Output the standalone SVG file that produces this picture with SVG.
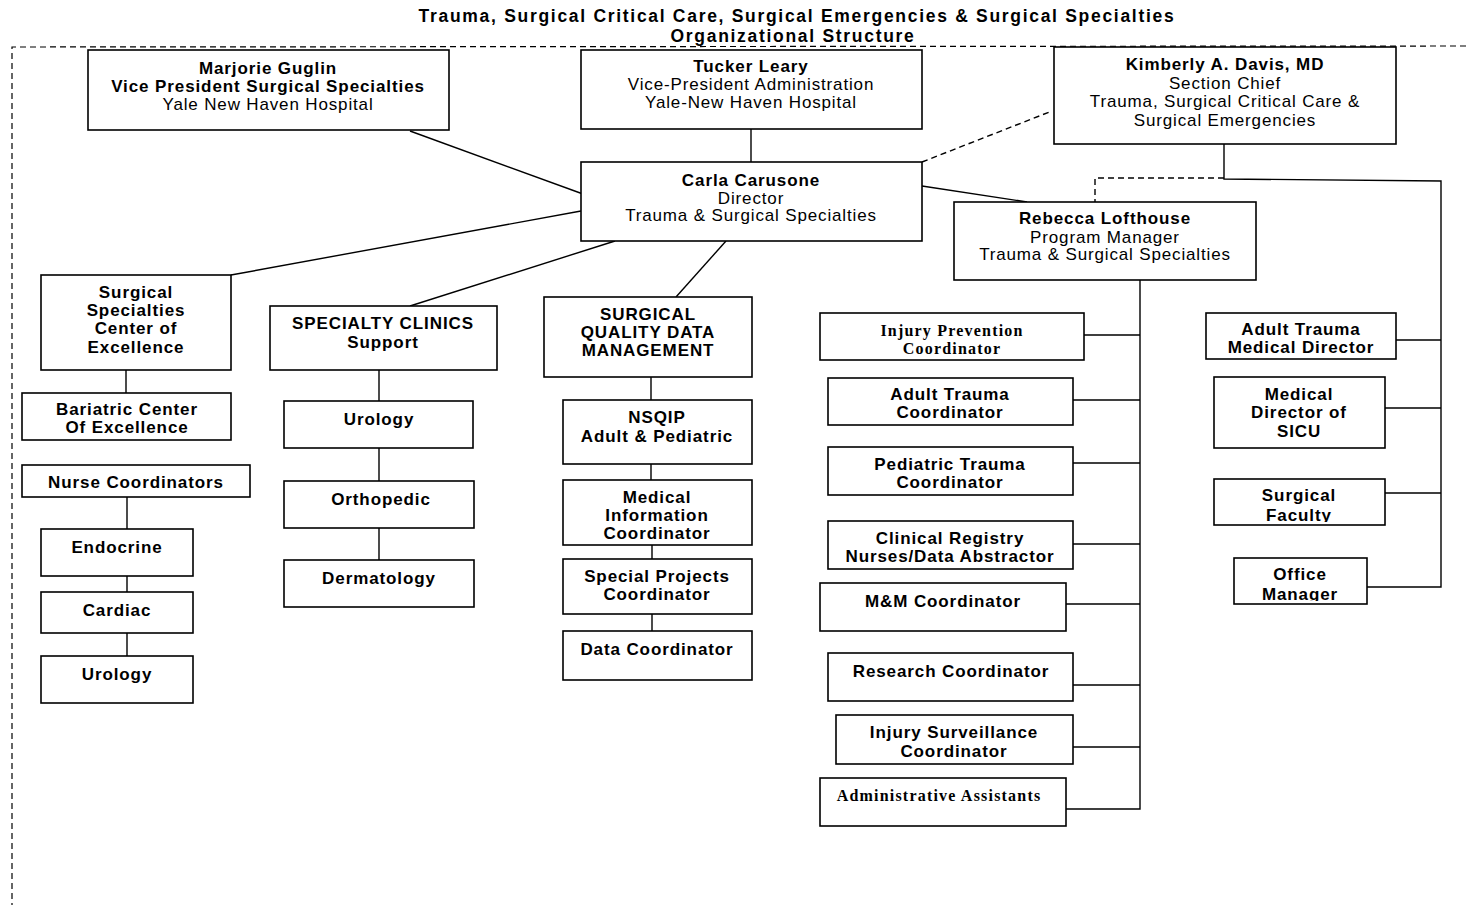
<svg xmlns="http://www.w3.org/2000/svg" width="1466" height="905" viewBox="0 0 1466 905">
<style>
.box{fill:#fff;stroke:#000;stroke-width:1.6}
.ln{fill:none;stroke:#000;stroke-width:1.4}
.dl{fill:none;stroke:#000;stroke-width:1.4;stroke-dasharray:6 4}
.frame{fill:none;stroke:#000;stroke-width:1.2;stroke-dasharray:6 4}
text{font-family:"Liberation Sans",Arial,sans-serif;font-size:17px;text-anchor:middle;fill:#000}
.t{font-weight:bold;font-size:17.5px;letter-spacing:1.7px}
.b{font-weight:bold;letter-spacing:0.9px}
.r{letter-spacing:0.85px}
.s{font-family:"Liberation Serif","Times New Roman",serif;font-weight:bold;font-size:16px;letter-spacing:1.2px}
</style>
<defs>
<clipPath id="cf"><rect x="1214" y="479" width="171" height="43"/></clipPath>
<clipPath id="co"><rect x="1234" y="558" width="133" height="43"/></clipPath>
</defs>
<rect width="1466" height="905" fill="#fff"/>
<g id="title">
<text class="t" x="797" y="22">Trauma, Surgical Critical Care, Surgical Emergencies &amp; Surgical Specialties</text>
<text class="t" x="793" y="42">Organizational Structure</text>
</g>
<g id="frame">
<path class="frame" d="M1466 46 L12 47 L12 905"/>
</g>
<g id="connectors">
<path class="ln" d="M410 131 L583 194"/>
<path class="ln" d="M751 129 L751 162"/>
<path class="dl" d="M922 162 L1052 111"/>
<path class="ln" d="M922 186 L1027 202"/>
<path class="ln" d="M581 211 L231 275"/>
<path class="ln" d="M615 241 L410 306"/>
<path class="ln" d="M726 241 L676 297"/>
<path class="ln" d="M1224 144 L1224 179 L1441 181 L1441 587 L1367 587"/>
<path class="dl" d="M1224 178 L1095 178 L1095 202"/>
<path class="ln" d="M1396 340 L1441 340 M1385 408 L1441 408 M1385 493 L1441 493"/>
<path class="ln" d="M1140 280 L1140 809 L1066 809"/>
<path class="ln" d="M1084 335 L1140 335 M1073 400 L1140 400 M1073 463 L1140 463 M1073 544 L1140 544 M1066 604 L1140 604 M1073 685 L1140 685 M1073 747 L1140 747"/>
<path class="ln" d="M126 370 L126 393 M127 497 L127 529 M127 576 L127 592 M127 633 L127 656"/>
<path class="ln" d="M379 370 L379 401 M379 448 L379 481 M379 528 L379 560"/>
<path class="ln" d="M651 377 L651 400 M651 464 L651 480 M652 545 L652 559 M652 614 L652 631"/>
</g>
<g id="marjorie"><rect class="box" x="88" y="50" width="361" height="80"/>
<text class="b" x="268" y="74">Marjorie Guglin</text><text class="b" x="268" y="92">Vice President Surgical Specialties</text><text class="r" x="268" y="110">Yale New Haven Hospital</text></g>
<g id="tucker"><rect class="box" x="581" y="50" width="341" height="79"/>
<text class="b" x="751" y="72">Tucker Leary</text><text class="r" x="751" y="90">Vice-President Administration</text><text class="r" x="751" y="108">Yale-New Haven Hospital</text></g>
<g id="kimberly"><rect class="box" x="1054" y="47" width="342" height="97"/>
<text class="b" x="1225" y="70">Kimberly A. Davis, MD</text><text class="r" x="1225" y="89">Section Chief</text><text class="r" x="1225" y="107">Trauma, Surgical Critical Care &amp;</text><text class="r" x="1225" y="126">Surgical Emergencies</text></g>
<g id="carla"><rect class="box" x="581" y="162" width="341" height="79"/>
<text class="b" x="751" y="186">Carla Carusone</text><text class="r" x="751" y="204">Director</text><text class="r" x="751" y="221">Trauma &amp; Surgical Specialties</text></g>
<g id="rebecca"><rect class="box" x="954" y="202" width="302" height="78"/>
<text class="b" x="1105" y="224">Rebecca Lofthouse</text><text class="r" x="1105" y="243">Program Manager</text><text class="r" x="1105" y="260">Trauma &amp; Surgical Specialties</text></g>
<g id="sscoe"><rect class="box" x="41" y="275" width="190" height="95"/>
<text class="b" x="136" y="298">Surgical</text><text class="b" x="136" y="316">Specialties</text><text class="b" x="136" y="334">Center of</text><text class="b" x="136" y="353">Excellence</text></g>
<g id="clinics"><rect class="box" x="270" y="306" width="227" height="64"/>
<text class="b" x="383" y="329">SPECIALTY CLINICS</text><text class="b" x="383" y="348">Support</text></g>
<g id="sqdm"><rect class="box" x="544" y="297" width="208" height="80"/>
<text class="b" x="648" y="320">SURGICAL</text><text class="b" x="648" y="338">QUALITY DATA</text><text class="b" x="648" y="356">MANAGEMENT</text></g>
<g id="bariatric"><rect class="box" x="22" y="393" width="209" height="47"/>
<text class="b" x="127" y="415">Bariatric Center</text><text class="b" x="127" y="433">Of Excellence</text></g>
<g id="nurse"><rect class="box" x="22" y="465" width="228" height="32"/>
<text class="b" x="136" y="488">Nurse Coordinators</text></g>
<g id="endocrine"><rect class="box" x="41" y="529" width="152" height="47"/><text class="b" x="117" y="553">Endocrine</text></g>
<g id="cardiac"><rect class="box" x="41" y="592" width="152" height="41"/><text class="b" x="117" y="616">Cardiac</text></g>
<g id="urology1"><rect class="box" x="41" y="656" width="152" height="47"/><text class="b" x="117" y="680">Urology</text></g>
<g id="urology2"><rect class="box" x="284" y="401" width="189" height="47"/><text class="b" x="379" y="425">Urology</text></g>
<g id="orthopedic"><rect class="box" x="284" y="481" width="190" height="47"/><text class="b" x="381" y="505">Orthopedic</text></g>
<g id="dermatology"><rect class="box" x="284" y="560" width="190" height="47"/><text class="b" x="379" y="584">Dermatology</text></g>
<g id="nsqip"><rect class="box" x="563" y="400" width="189" height="64"/>
<text class="b" x="657" y="423">NSQIP</text><text class="b" x="657" y="442">Adult &amp; Pediatric</text></g>
<g id="medinfo"><rect class="box" x="563" y="480" width="189" height="65"/>
<text class="b" x="657" y="503">Medical</text><text class="b" x="657" y="521">Information</text><text class="b" x="657" y="539">Coordinator</text></g>
<g id="specialprojects"><rect class="box" x="563" y="559" width="189" height="55"/>
<text class="b" x="657" y="582">Special Projects</text><text class="b" x="657" y="600">Coordinator</text></g>
<g id="datacoord"><rect class="box" x="563" y="631" width="189" height="49"/><text class="b" x="657" y="655">Data Coordinator</text></g>
<g id="injuryprev"><rect class="box" x="820" y="313" width="264" height="47"/>
<text class="s" x="952" y="336">Injury Prevention</text><text class="s" x="952" y="354">Coordinator</text></g>
<g id="adulttraumacoord"><rect class="box" x="828" y="378" width="245" height="47"/>
<text class="b" x="950" y="400">Adult Trauma</text><text class="b" x="950" y="418">Coordinator</text></g>
<g id="pediatric"><rect class="box" x="828" y="447" width="245" height="48"/>
<text class="b" x="950" y="470">Pediatric Trauma</text><text class="b" x="950" y="488">Coordinator</text></g>
<g id="clinicalregistry"><rect class="box" x="828" y="521" width="245" height="48"/>
<text class="b" x="950" y="544">Clinical Registry</text><text class="b" x="950" y="562">Nurses/Data Abstractor</text></g>
<g id="mm"><rect class="box" x="820" y="583" width="246" height="48"/><text class="b" x="943" y="607">M&amp;M Coordinator</text></g>
<g id="research"><rect class="box" x="828" y="653" width="245" height="48"/><text class="b" x="951" y="677">Research Coordinator</text></g>
<g id="injurysurv"><rect class="box" x="836" y="715" width="237" height="49"/>
<text class="b" x="954" y="738">Injury Surveillance</text><text class="b" x="954" y="757">Coordinator</text></g>
<g id="admin"><rect class="box" x="820" y="778" width="246" height="48"/><text class="s" x="939" y="801">Administrative Assistants</text></g>
<g id="adulttraumamd"><rect class="box" x="1206" y="313" width="190" height="46"/>
<text class="b" x="1301" y="335">Adult Trauma</text><text class="b" x="1301" y="353">Medical Director</text></g>
<g id="sicu"><rect class="box" x="1214" y="377" width="171" height="71"/>
<text class="b" x="1299" y="400">Medical</text><text class="b" x="1299" y="418">Director of</text><text class="b" x="1299" y="437">SICU</text></g>
<g id="faculty"><rect class="box" x="1214" y="479" width="171" height="46"/>
<g clip-path="url(#cf)"><text class="b" x="1299" y="501">Surgical</text><text class="b" x="1299" y="521">Faculty</text></g></g>
<g id="officemanager"><rect class="box" x="1234" y="558" width="133" height="46"/>
<g clip-path="url(#co)"><text class="b" x="1300" y="580">Office</text><text class="b" x="1300" y="600">Manager</text></g></g>
</svg>
